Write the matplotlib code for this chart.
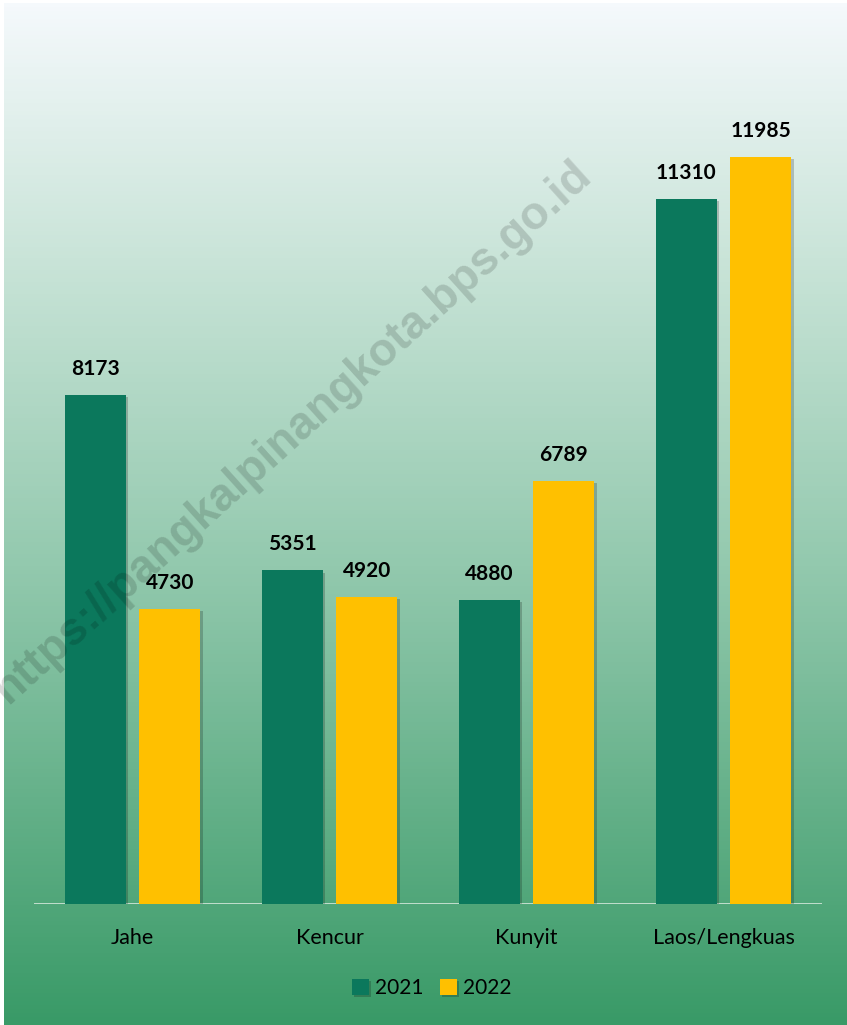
import numpy as np
import matplotlib.pyplot as plt
import matplotlib.patheffects as pe
from matplotlib.colors import LinearSegmentedColormap

categories = ['Jahe', 'Kencur', 'Kunyit', 'Laos/Lengkuas']
years = ['2021', '2022']
values_2021 = [8173, 5351, 4880, 11310]
values_2022 = [4730, 4920, 6789, 11985]

color_2021 = '#0B785C'
color_2022 = '#FFC000'

W, H = 847, 1025
fig = plt.figure(figsize=(W / 100, H / 100), dpi=100, facecolor='white')

# gradient background
bg = fig.add_axes([4 / W, 0, 1 - 4 / W, 1 - 3 / H])
cmap = LinearSegmentedColormap.from_list(
    'bg', [(0, '#F5F9FC'), (0.25, '#C9E4D8'), (0.55, '#93C9AE'), (1, '#399A67')])
grad = np.linspace(0, 1, 256).reshape(-1, 1)
bg.imshow(grad, aspect='auto', cmap=cmap, extent=[0, 1, 1, 0])
bg.set_xlim(0, 1)
bg.set_ylim(1, 0)
bg.axis('off')

# bar axes
ymax = 14000
px_per_unit = 747 / 11985
ax_h = ymax * px_per_unit
ax = fig.add_axes([34 / W, (H - 904) / H, (822 - 34) / W, ax_h / H])
ax.patch.set_alpha(0)

x = np.arange(len(categories))
width = 0.31
offset = 0.19
shadow = [pe.SimplePatchShadow(offset=(1.5, -1.5), shadow_rgbFace='black', alpha=0.2), pe.Normal()]
b1 = ax.bar(x - offset, values_2021, width, color=color_2021, label=years[0], zorder=3)
b2 = ax.bar(x + offset, values_2022, width, color=color_2022, label=years[1], zorder=3)
for b in list(b1) + list(b2):
    b.set_path_effects(shadow)

for bars, vals in [(b1, values_2021), (b2, values_2022)]:
    for rect, v in zip(bars, vals):
        ax.text(rect.get_x() + rect.get_width() / 2, v + 26 / px_per_unit, str(v),
                ha='center', va='center', fontsize=15, fontweight='bold',
                family='Lato', color='black', zorder=4)

ax.set_xlim(-0.5, 3.5)
ax.set_ylim(0, ymax)
ax.axhline(0, color='#CDE3D6', lw=2, zorder=2)
for s in ax.spines.values():
    s.set_visible(False)
ax.set_yticks([])
ax.set_xticks(x)
ax.set_xticklabels(categories, fontsize=15.5, family='Lato')
ax.tick_params(axis='x', length=0, pad=17)

leg = fig.legend(handles=[b1, b2], labels=years, loc='center', bbox_to_anchor=(432 / W, 1 - 988 / H),
                 ncol=2, frameon=False, prop={'family': 'Lato', 'size': 15},
                 handlelength=0.8, handleheight=0.8, handletextpad=0.3, columnspacing=0.8)

# watermark
fig.text(293 / W, 1 - 432 / H, 'https://pangkalpinangkota.bps.go.id', rotation=42,
         ha='center', va='center', fontsize=33, fontweight='bold', family='Liberation Sans',
         color='black', alpha=0.15, zorder=10)

fig.savefig('out.png', dpi=100)
